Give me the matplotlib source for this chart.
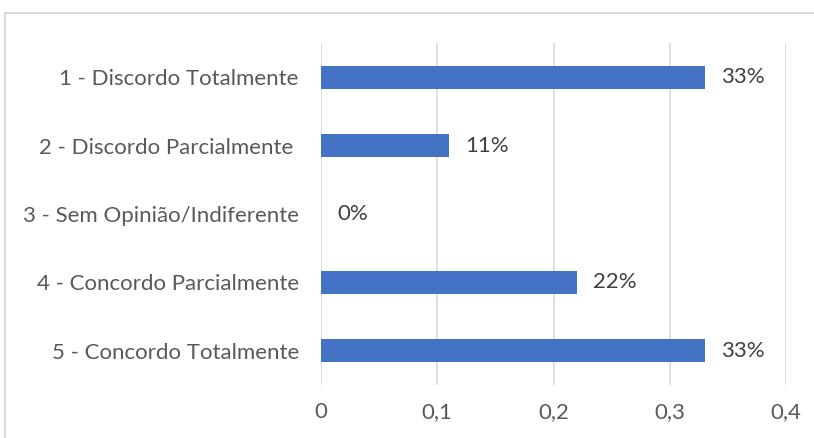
import matplotlib.pyplot as plt
from matplotlib.patches import Rectangle

categories = [
    "1 - Discordo Totalmente",
    "2 - Discordo Parcialmente ",
    "3 - Sem Opinião/Indiferente",
    "4 - Concordo Parcialmente",
    "5 - Concordo Totalmente",
]
values = [0.33, 0.11, 0.0, 0.22, 0.33]
labels = ["33%", "11%", "0%", "22%", "33%"]
ticks = [0, 0.1, 0.2, 0.3, 0.4]
tick_labels = ["0", "0,1", "0,2", "0,3", "0,4"]

text_color = "#595959"
grid_color = "#d9d9d9"
plt.rcParams["font.family"] = ["Lato", "DejaVu Sans"]
fs = 16

fig = plt.figure(figsize=(8.14, 4.38), dpi=100)
ax = fig.add_axes([321 / 814, 53 / 438, 465 / 814, 342 / 438])

y = range(len(categories))
ax.barh(y, values, height=0.34, color="#4472C4", zorder=3)
for yi, v, lab in zip(y, values, labels):
    ax.text(v + 0.014, yi, lab, va="center", ha="left",
            fontsize=fs, color="#404040")

ax.set_xlim(0, 0.4)
ax.set_ylim(len(categories) - 0.5, -0.5)
ax.set_xticks(ticks)
ax.set_xticklabels(tick_labels)
ax.set_yticks(list(y))
ax.set_yticklabels(categories)
ax.tick_params(axis="both", length=0, labelsize=fs, labelcolor=text_color)
ax.tick_params(axis="x", pad=12.5)
ax.tick_params(axis="y", pad=16)
ax.grid(axis="x", color=grid_color, linewidth=1.2, zorder=0)
for s in ax.spines.values():
    s.set_visible(False)

# chart frame, running off the right and bottom edges
fig.patches.append(Rectangle((5 / 814, -0.05), 1.0, (438 - 13) / 438 + 0.05,
                             transform=fig.transFigure, fill=False,
                             edgecolor=grid_color, linewidth=1.5))

fig.savefig("out.png", dpi=100, facecolor="white")
